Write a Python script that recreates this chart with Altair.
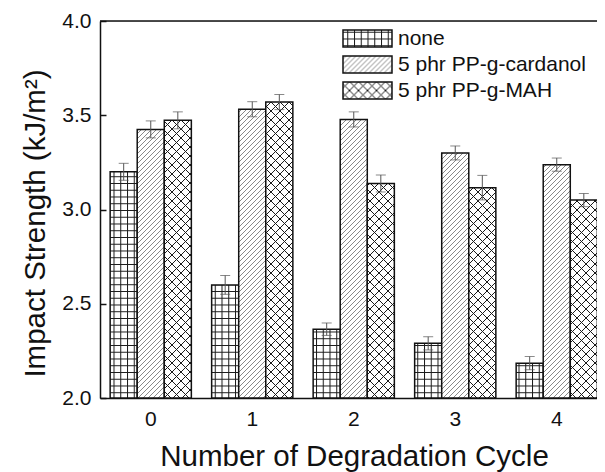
import altair as alt
import pandas as pd

# ---------------- data ----------------
CYCLES = ["0", "1", "2", "3", "4"]
SERIES = ["none", "5 phr PP-g-cardanol", "5 phr PP-g-MAH"]
NONE = [3.20, 2.60, 2.365, 2.29, 2.185]
NONE_ERR = [0.045, 0.05, 0.033, 0.035, 0.035]
CARD = [3.425, 3.532, 3.478, 3.30, 3.238]
CARD_ERR = [0.045, 0.04, 0.04, 0.037, 0.035]
MAH = [3.473, 3.57, 3.138, 3.116, 3.05]
MAH_ERR = [0.045, 0.04, 0.045, 0.065, 0.035]
Y_TICKS = [2.0, 2.5, 3.0, 3.5, 4.0]
X_TITLE = "Number of Degradation Cycle"
Y_TITLE = "Impact Strength (kJ/m²)"

# hatch fills (pattern paint servers defined below), white fallback
FILLS = ["url(#pgrid) #fff", "url(#pdiag) #fff", "url(#pcross) #fff"]

PATTERN_DEFS = """
<svg width="0" height="0" style="position:absolute;width:0;height:0;overflow:hidden" aria-hidden="true">
 <defs>
  <pattern id="pgrid" patternUnits="userSpaceOnUse" width="6.75" height="6.75">
   <rect width="6.75" height="6.75" fill="#fff"/>
   <path d="M0,0.5H6.75M0.5,0V6.75" stroke="#1a1a1a" stroke-width="1" fill="none"/>
  </pattern>
  <pattern id="pdiag" patternUnits="userSpaceOnUse" width="5" height="5">
   <rect width="5" height="5" fill="#fff"/>
   <path d="M-1,6L6,-1M-1,1L1,-1M4,6L6,4" stroke="#7a7a7a" stroke-width="0.9" fill="none"/>
  </pattern>
  <pattern id="pcross" patternUnits="userSpaceOnUse" width="9" height="9">
   <rect width="9" height="9" fill="#fff"/>
   <path d="M-1,-1L10,10M10,-1L-1,10" stroke="#1a1a1a" stroke-width="1" fill="none"/>
  </pattern>
 </defs>
</svg>
"""

# make the pattern definitions part of the saved page
try:
    import altair.utils.html as _ahtml
    _std = _ahtml.TEMPLATES["standard"]
    _orig_render = _std.render

    def _render_with_patterns(*args, **kwargs):
        html = _orig_render(*args, **kwargs)
        if "<body>" in html:
            return html.replace("<body>", "<body>" + PATTERN_DEFS, 1)
        return PATTERN_DEFS + html

    _std.render = _render_with_patterns
except Exception:
    pass

# ---------------- table ----------------
rows = []
for name, vals, errs in [(SERIES[0], NONE, NONE_ERR),
                         (SERIES[1], CARD, CARD_ERR),
                         (SERIES[2], MAH, MAH_ERR)]:
    for c, v, e in zip(CYCLES, vals, errs):
        rows.append({"cycle": c, "series": name, "value": v,
                     "lo": v - e, "hi": v + e})
df = pd.DataFrame(rows)
top_df = pd.DataFrame({"v": [Y_TICKS[-1]]})

FONT = "Liberation Sans"
INK = "#111111"

yscale = alt.Scale(domain=[Y_TICKS[0], Y_TICKS[-1]], nice=False, zero=False)

x = alt.X(
    "cycle:N", sort=CYCLES,
    scale=alt.Scale(paddingInner=0.2, paddingOuter=0.1, range=[0, 507.5]),
    axis=alt.Axis(
        title=X_TITLE, labelAngle=0, ticks=False, grid=False,
        domainColor=INK, domainWidth=1.5,
        labelFontSize=21, labelPadding=10, labelColor=INK, labelFont=FONT,
        titleFontSize=29.5, titleFontWeight="normal", titleFont=FONT, titleColor=INK,
        titleX=254, titleY=67, titleBaseline="alphabetic",
    ),
)
xo = alt.XOffset("series:N", sort=SERIES,
                 scale=alt.Scale(paddingInner=0, paddingOuter=0))

yaxis = alt.Axis(
    values=Y_TICKS, format=".1f", ticks=False, grid=False,
    domainColor=INK, domainWidth=1.5,
    labelFontSize=21, labelPadding=9, labelColor=INK, labelFont=FONT,
    title=Y_TITLE, titleFontSize=29.5, titleFontWeight="normal",
    titleFont=FONT, titleColor=INK,
    titleX=-56, titleY=202, titleBaseline="alphabetic",
)

base = alt.Chart(df)

bars = base.mark_bar(stroke=INK, strokeWidth=1.5, opacity=1).encode(
    x=x,
    xOffset=xo,
    y=alt.Y("value:Q", scale=yscale, axis=yaxis),
    y2=alt.datum(Y_TICKS[0]),
    fill=alt.Fill(
        "series:N", sort=SERIES,
        scale=alt.Scale(domain=SERIES, range=FILLS),
        legend=alt.Legend(
            title=None, orient="none", legendX=257, legendY=7, padding=0,
            symbolType="M-2.882,-1H2.882V1H-2.882Z", symbolSize=289,
            symbolStrokeColor=INK, symbolStrokeWidth=1.5, symbolOpacity=1,
            labelFontSize=21, labelFont=FONT, labelColor=INK,
            labelOffset=20, rowPadding=3, labelLimit=400,
        ),
    ),
)

ERR = "#555555"
whisk = base.mark_rule(color=ERR, strokeWidth=1).encode(
    x=x, xOffset=xo,
    y=alt.Y("lo:Q", scale=yscale, axis=None),
    y2="hi:Q",
)
cap_hi = base.mark_tick(color=ERR, thickness=1, size=10).encode(
    x=x, xOffset=xo, y=alt.Y("hi:Q", scale=yscale, axis=None),
)
cap_lo = base.mark_tick(color=ERR, thickness=1, size=10).encode(
    x=x, xOffset=xo, y=alt.Y("lo:Q", scale=yscale, axis=None),
)

# top frame line + inward ticks on the left axis
frame = alt.Chart(top_df).mark_rule(color=INK, strokeWidth=1.5).encode(
    y=alt.Y("v:Q", scale=yscale, axis=alt.Axis(
        orient="left", offset=-6, values=Y_TICKS, labels=False, domain=False,
        ticks=True, tickSize=6, tickColor=INK, tickWidth=1.5,
        grid=False, title=None)),
)

chart = alt.layer(bars, whisk, cap_hi, cap_lo, frame).resolve_axis(
    y="independent"
).properties(
    width=497, height=377,
    autosize=alt.AutoSizeParams(type="none"),
    padding={"left": 92, "top": 13, "right": 0, "bottom": 74},
    background="white",
).configure_view(stroke=None).configure(font=FONT)

chart.save("out.html", embed_options={"renderer": "svg", "actions": False})
